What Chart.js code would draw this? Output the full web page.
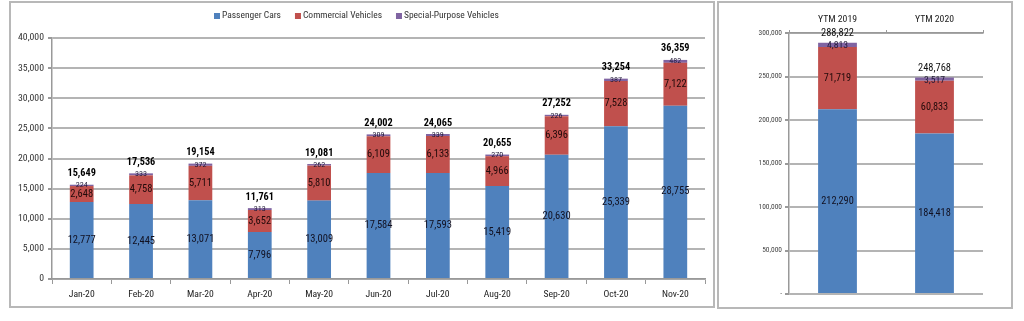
<!DOCTYPE html>
<html><head><meta charset="utf-8">
<script src="https://cdn.jsdelivr.net/npm/chart.js@4.4.1/dist/chart.umd.min.js"></script>
<style>
html,body{margin:0;padding:0;background:#fff;width:1024px;height:321px;overflow:hidden;}
.box{position:absolute;border:2px solid #b8b8b8;box-sizing:border-box;}
canvas{position:absolute;top:0;}
</style></head><body>
<div class="box" style="left:9px;top:1px;width:706px;height:307px"></div>
<div class="box" style="left:717px;top:1px;width:296px;height:308px"></div>
<canvas id="c1" width="712" height="321" style="left:0"></canvas>
<canvas id="c2" width="312" height="321" style="left:712px"></canvas>
<script>
const months = ['Jan-20','Feb-20','Mar-20','Apr-20','May-20','Jun-20','Jul-20','Aug-20','Sep-20','Oct-20','Nov-20'];
const passengerCars = [12777,12445,13071,7796,13009,17584,17593,15419,20630,25339,28755];
const commercialVehicles = [2648,4758,5711,3652,5810,6109,6133,4966,6396,7528,7122];
const specialPurpose = [224,333,372,313,262,309,339,270,226,387,482];
const ytmLabels = ['YTM 2019','YTM 2020'];
const ytmPassenger = [212290,184418];
const ytmCommercial = [71719,60833];
const ytmSpecial = [4813,3517];
const seriesNames = ['Passenger Cars','Commercial Vehicles','Special-Purpose Vehicles'];
const seriesColors = ['#4F81BD','#C0504D','#8064A2'];

const mctx = document.createElement('canvas').getContext('2d');
function hasFont(name){
  const s='abcdefghijklmnopqrstuvwxyz 0123456789,';
  mctx.font='40px monospace'; const a=mctx.measureText(s).width;
  mctx.font='40px "'+name+'", monospace'; const b=mctx.measureText(s).width;
  return Math.abs(a-b)>0.5;
}
const candidates=['Liberation Sans Narrow','Roboto Condensed','DejaVu Sans Condensed','Liberation Sans'];
const FAMILY = candidates.find(hasFont) || 'Liberation Sans';
const FONT = '"'+FAMILY+'", sans-serif';
function fit(sample, w, weight){
  mctx.font=(weight||'normal')+' 100px '+FONT;
  return +(w/mctx.measureText(sample).width*100).toFixed(2);
}
const S = {
  ytick: fit('40,000',26), xlab: fit('Jan-20',26), legend: fit('Passenger Cars',59),
  seg: fit('12,777',28), total: fit('15,649',28.5,'bold'), small: fit('224',12),
  rtick: fit('300,000',23.5), rcat: fit('YTM 2019',39), rtotal: fit('288,822',33),
  rseg: fit('212,290',32.5), rsmall: fit('4,813',21)
};
const fmt = v => v.toLocaleString('en-US');

const stackLabels = {
  id:'stackLabels',
  afterDatasetsDraw(chart, args, o){
    const ctx = chart.ctx;
    ctx.save();
    ctx.textAlign='center'; ctx.textBaseline='middle';
    chart.data.datasets.forEach((ds,di)=>{
      const meta = chart.getDatasetMeta(di);
      const f = o.seg[di];
      meta.data.forEach((bar,i)=>{
        ctx.font = f.font; ctx.fillStyle = f.color;
        ctx.fillText(fmt(ds.data[i]), bar.x, (bar.y+bar.base)/2 + (f.dy||0));
      });
    });
    const last = chart.getDatasetMeta(chart.data.datasets.length-1);
    last.data.forEach((bar,i)=>{
      const tot = chart.data.datasets.reduce((s,ds)=>s+ds.data[i],0);
      ctx.font = o.total.font; ctx.fillStyle = o.total.color;
      ctx.fillText(fmt(tot), bar.x, bar.y - o.total.off);
    });
    if (o.legend){
      let x = o.legend.x; const y = o.legend.y;
      ctx.textAlign='left';
      ctx.font = o.legend.font;
      chart.data.datasets.forEach(ds=>{
        ctx.fillStyle = ds.backgroundColor;
        ctx.fillRect(x, y-3, 6, 6);
        x += 8;
        ctx.fillStyle = '#333';
        ctx.fillText(ds.label, x, y);
        x += ctx.measureText(ds.label).width + o.legend.gap;
      });
    }
    ctx.restore();
  }
};

function mkDatasets(a,b,c){
  return [a,b,c].map((d,i)=>({label:seriesNames[i], data:d, backgroundColor:seriesColors[i], barPercentage:0.8, categoryPercentage:0.5, stack:'s'}));
}

new Chart(document.getElementById('c1'), {
  type:'bar',
  data:{labels:months, datasets:mkDatasets(passengerCars,commercialVehicles,specialPurpose)},
  options:{
    responsive:false, animation:false, devicePixelRatio:1,
    layout:{padding:{left:0,right:7,top:38,bottom:14}},
    plugins:{
      legend:{display:false}, tooltip:{enabled:false},
      stackLabels:{
        seg:[{font:S.seg+'px '+FONT,color:'#111122'},{font:S.seg+'px '+FONT,color:'#220a0a'},{font:S.small+'px '+FONT,color:'#221a38'}],
        total:{font:'bold '+S.total+'px '+FONT,color:'#000',off:11},
        legend:{x:214,y:16,font:S.legend+'px '+FONT,gap:14}
      }
    },
    scales:{
      x:{stacked:true,
        afterFit:s=>{s.height=28;},
        grid:{offset:true,drawOnChartArea:false,tickLength:5,color:'#999'},
        border:{color:'#999',width:1.5},
        ticks:{font:{family:FONT,size:S.xlab},color:'#222',padding:5}},
      y:{stacked:true,min:0,max:40000,
        afterFit:s=>{s.width=52;},
        grid:{color:'#b4b4b4',lineWidth:2,tickLength:4,tickColor:'#999'},
        border:{color:'#999',width:1.5},
        ticks:{stepSize:5000,font:{family:FONT,size:S.ytick},color:'#333',padding:4,callback:v=>fmt(v)}}
    }
  },
  plugins:[stackLabels]
});

new Chart(document.getElementById('c2'), {
  type:'bar',
  data:{labels:ytmLabels, datasets:mkDatasets(ytmPassenger,ytmCommercial,ytmSpecial)},
  options:{
    responsive:false, animation:false, devicePixelRatio:1,
    layout:{padding:{left:0,right:41,top:8,bottom:27}},
    plugins:{
      legend:{display:false}, tooltip:{enabled:false},
      stackLabels:{
        seg:[{font:S.rseg+'px '+FONT,color:'#111122'},{font:S.rseg+'px '+FONT,color:'#220a0a'},{font:S.rsmall+'px '+FONT,color:'#221a38',dy:1}],
        total:{font:S.rtotal+'px '+FONT,color:'#111',off:9.5}
      }
    },
    scales:{
      x:{stacked:true,position:'top',
        afterFit:s=>{s.height=25;},
        grid:{offset:true,drawOnChartArea:false,tickLength:3,color:'#999'},
        border:{color:'#999',width:1.5},
        ticks:{font:{family:FONT,size:S.rcat},color:'#222',padding:5}},
      y:{stacked:true,min:0,max:300000,
        afterFit:s=>{s.width=77;},
        grid:{color:'#b4b4b4',lineWidth:2,tickLength:4,tickColor:'#999'},
        border:{color:'#999',width:1.5},
        ticks:{stepSize:50000,font:{family:FONT,size:S.rtick},color:'#444',padding:3,callback:v=>v===0?'-':fmt(v)}}
    }
  },
  plugins:[stackLabels]
});
</script>
</body></html>
